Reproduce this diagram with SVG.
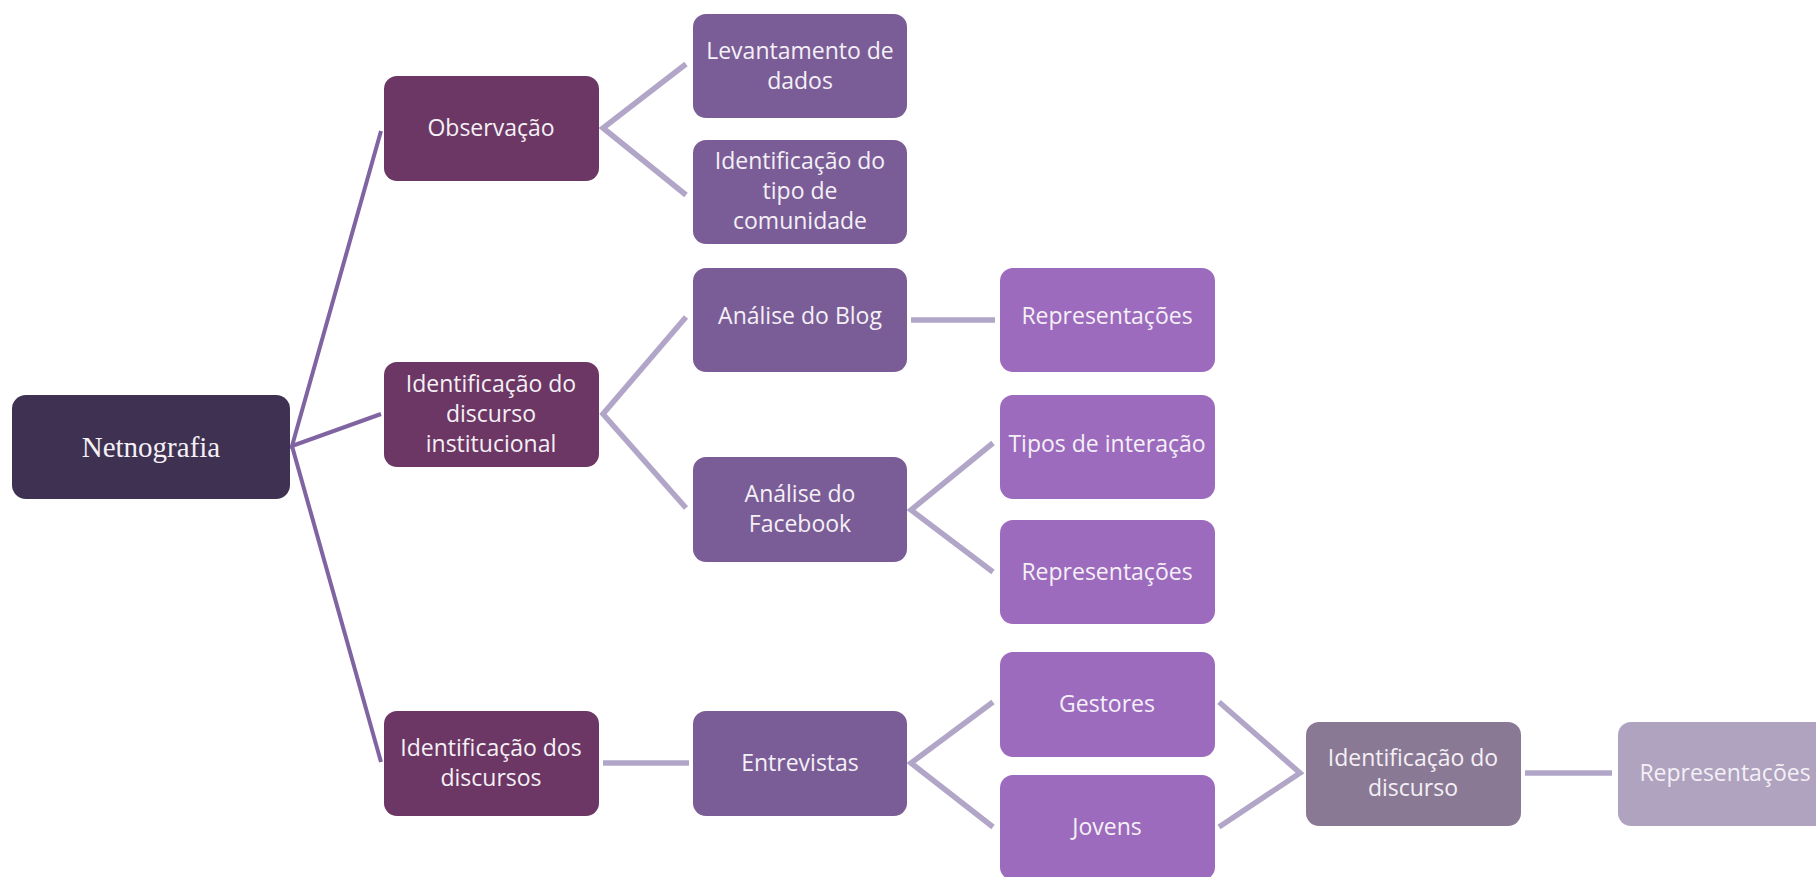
<svg xmlns="http://www.w3.org/2000/svg" width="1816" height="877" viewBox="0 0 1816 877">
<style>
.t{font-family:"Open Sans","Noto Sans",sans-serif;font-size:23px;fill:#f4f0f6;text-anchor:middle}
.s{font-family:"Liberation Serif","Times New Roman",serif;font-size:29px;fill:#f4f0f6;text-anchor:middle}
.c1{stroke:#8064a2;stroke-width:4;fill:none}
.c2{stroke:#b2a6c8;stroke-width:5.5;fill:none}
.l0{fill:#3f3151}
.l1{fill:#6c3764}
.l2{fill:#7a5d97}
.l3{fill:#9d6bbe}
.l4{fill:#8a7994}
.l5{fill:#afa3bf}
</style>
<rect width="1816" height="877" fill="#ffffff"/>
<g id="connectors">
<polyline class="c1" points="381,131 292,446 381,414"/>
<line class="c1" x1="292" y1="446" x2="381" y2="762"/>
<polyline class="c2" points="686,64 603,128 686,195"/>
<polyline class="c2" points="686,317 603,414 686,508"/>
<line class="c2" x1="911" y1="320" x2="995" y2="320"/>
<polyline class="c2" points="993,443 911,510 993,572"/>
<line class="c2" x1="603" y1="763" x2="689" y2="763"/>
<polyline class="c2" points="993,702 911,763 993,827"/>
<polyline class="c2" points="1219,702 1300,773 1219,827"/>
<line class="c2" x1="1525" y1="773" x2="1612" y2="773"/>
</g>
<g id="n-netnografia"><rect class="l0" x="12" y="395" width="278" height="104" rx="14"/><text class="s" x="151" y="457">Netnografia</text></g>
<g id="n-observacao"><rect class="l1" x="384" y="76" width="215" height="105" rx="13"/><text class="t" x="491" y="136">Observação</text></g>
<g id="n-ident-inst"><rect class="l1" x="384" y="362" width="215" height="105" rx="13"/><text class="t" x="491" y="392">Identificação do</text><text class="t" x="491" y="422">discurso</text><text class="t" x="491" y="452">institucional</text></g>
<g id="n-ident-dos"><rect class="l1" x="384" y="711" width="215" height="105" rx="13"/><text class="t" x="491" y="756">Identificação dos</text><text class="t" x="491" y="786">discursos</text></g>
<g id="n-levantamento"><rect class="l2" x="693" y="14" width="214" height="104" rx="13"/><text class="t" x="800" y="59">Levantamento de</text><text class="t" x="800" y="89">dados</text></g>
<g id="n-ident-tipo"><rect class="l2" x="693" y="140" width="214" height="104" rx="13"/><text class="t" x="800" y="169">Identificação do</text><text class="t" x="800" y="199">tipo de</text><text class="t" x="800" y="229">comunidade</text></g>
<g id="n-blog"><rect class="l2" x="693" y="268" width="214" height="104" rx="13"/><text class="t" x="800" y="324">Análise do Blog</text></g>
<g id="n-facebook"><rect class="l2" x="693" y="457" width="214" height="105" rx="13"/><text class="t" x="800" y="502">Análise do</text><text class="t" x="800" y="532">Facebook</text></g>
<g id="n-entrevistas"><rect class="l2" x="693" y="711" width="214" height="105" rx="13"/><text class="t" x="800" y="771">Entrevistas</text></g>
<g id="n-repr1"><rect class="l3" x="1000" y="268" width="215" height="104" rx="13"/><text class="t" x="1107" y="324">Representações</text></g>
<g id="n-tipos"><rect class="l3" x="1000" y="395" width="215" height="104" rx="13"/><text class="t" x="1107" y="452">Tipos de interação</text></g>
<g id="n-repr2"><rect class="l3" x="1000" y="520" width="215" height="104" rx="13"/><text class="t" x="1107" y="580">Representações</text></g>
<g id="n-gestores"><rect class="l3" x="1000" y="652" width="215" height="105" rx="13"/><text class="t" x="1107" y="712">Gestores</text></g>
<g id="n-jovens"><rect class="l3" x="1000" y="775" width="215" height="105" rx="13"/><text class="t" x="1107" y="835">Jovens</text></g>
<g id="n-ident-disc"><rect class="l4" x="1306" y="722" width="215" height="104" rx="13"/><text class="t" x="1413" y="766">Identificação do</text><text class="t" x="1413" y="796">discurso</text></g>
<g id="n-repr3"><rect class="l5" x="1618" y="722" width="215" height="104" rx="13"/><text class="t" x="1725" y="781">Representações</text></g>
</svg>
